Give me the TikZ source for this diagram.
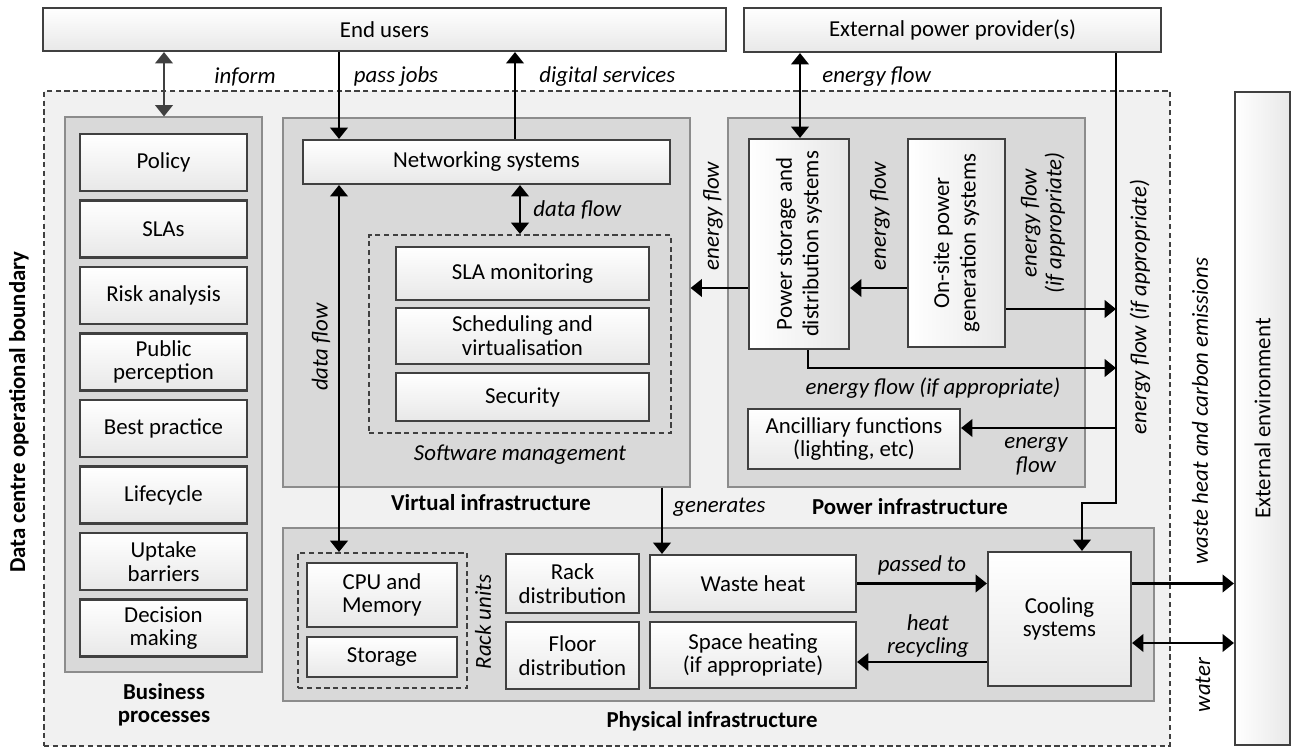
\documentclass[tikz,border=0pt]{standalone}
\usepackage{fontspec}
\setmainfont{Carlito}
\usetikzlibrary{arrows.meta,calc}
\definecolor{bd}{HTML}{404040}
\definecolor{panelc}{HTML}{D9D9D9}
\definecolor{panelbd}{HTML}{8C8C8C}
\definecolor{bgin}{HTML}{F1F1F1}
\begin{document}
\begin{tikzpicture}[x=0.02cm,y=-0.02cm,
  font=\fontsize{13}{13.5}\selectfont,
  sz/.style 2 args={minimum width=#1*0.02cm, minimum height=#2*0.02cm},
  box/.style={draw=bd, line width=1.2pt, top color=white, bottom color=black!9, align=center, inner sep=0pt, anchor=center},
  vbox/.style={draw=bd, line width=1.2pt, left color=white, right color=black!9, inner sep=0pt, anchor=center},
  panel/.style={draw=panelbd, line width=0.6pt, fill=panelc, inner sep=0pt, anchor=center},
  dbox/.style={draw=bd, line width=1.1pt, dash pattern=on 3pt off 2pt, inner sep=0pt, anchor=center},
  tip/.tip={Triangle[length=6.5pt,width=10pt]},
  arr/.style={line width=1.4pt, -tip},
  darr/.style={line width=1.4pt, tip-tip},
  lab/.style={font=\fontsize{13}{13.5}\selectfont\itshape, inner sep=0pt, align=center},
  blab/.style={font=\fontsize{13}{13}\selectfont\bfseries, inner sep=0pt, align=center},
  txt/.style={inner sep=0pt, align=center},
]
\useasboundingbox (0,0) rectangle (1295,747);
\fill[white] (0,0) rectangle (1295,747);

% operational boundary
\node[dbox, fill=bgin, sz={1126}{655}] (boundary) at (607,418.5) {};

% top boxes
\node[box, sz={683}{43}] (endusers) at (384.5,29.5) {End users};
\node[box, sz={417}{44}] (extpower) at (952.5,30) {External power provider(s)};

% external environment
\node[vbox, sz={55}{653}] (extenv) at (1262.5,418.5) {};
\node[txt, rotate=90] (extenvt) at (extenv) {External environment};

% business processes
\node[panel, sz={197}{555}] (biz) at (163.5,394.5) {};
\node[box, sz={167}{57}] (b1) at (163.5,162.5) {Policy};
\node[box, sz={167}{57}] (b2) at (163.5,229) {SLAs};
\node[box, sz={167}{57}] (b3) at (163.5,295.5) {Risk analysis};
\node[box, sz={167}{57}] (b4) at (163.5,362) {Public\\perception};
\node[box, sz={167}{57}] (b5) at (163.5,428.5) {Best practice};
\node[box, sz={167}{57}] (b6) at (163.5,495) {Lifecycle};
\node[box, sz={167}{57}] (b7) at (163.5,561.5) {Uptake\\barriers};
\node[box, sz={167}{57}] (b8) at (163.5,628) {Decision\\making};
\node[blab, font=\fontsize{13}{13}\selectfont\bfseries] (bizl) at (164,705) {Business\\processes};

% virtual infrastructure
\node[panel, sz={407}{369}] (virt) at (486.5,302.5) {};
\node[box, sz={367}{44}] (netw) at (486.5,162) {Networking systems};
\node[dbox, sz={302}{198}] (sw) at (520,334) {};
\node[box, sz={253}{53}] (sla) at (522.5,273.5) {SLA monitoring};
\node[box, sz={253}{56}] (sched) at (522.5,336) {Scheduling and\\virtualisation};
\node[box, sz={253}{48}] (sec) at (522.5,397) {Security};
\node[lab] (swl) at (520,455) {Software management};
\node[blab] (virtl) at (491,503) {Virtual infrastructure};

% power infrastructure
\node[panel, sz={357}{369}] (pow) at (906.5,302.5) {};
\node[vbox, sz={100}{210}] (pstore) at (799,244) {};
\node[txt, rotate=90, font=\fontsize{13}{15}\selectfont] (pstoret) at (pstore) {Power storage and\\distribution systems};
\node[vbox, sz={97}{208}] (onsite) at (956.5,243) {};
\node[txt, rotate=90, font=\fontsize{13}{15}\selectfont] (onsitet) at (onsite) {On-site power\\generation systems};
\node[box, sz={212}{60}] (anc) at (854,439) {Ancilliary functions\\(lighting, etc)};
\node[blab] (powl) at (910,507) {Power infrastructure};

% physical infrastructure
\node[panel, sz={871}{173}] (phys) at (718.5,614.5) {};
\node[dbox, sz={169}{135}] (rack) at (382.5,620.5) {};
\node[box, sz={150}{64}] (cpu) at (382,595) {CPU and\\Memory};
\node[box, sz={150}{40}] (stor) at (382,657) {Storage};
\node[lab, rotate=90] (rackl) at (483,622) {Rack units};
\node[box, sz={133}{59}] (rackd) at (572.5,583.5) {Rack\\distribution};
\node[box, sz={133}{67}] (floord) at (572.5,655.5) {Floor\\distribution};
\node[box, sz={206}{57}] (waste) at (753,583.5) {Waste heat};
\node[box, sz={206}{66}] (space) at (753,655) {Space heating\\(if appropriate)};
\node[box, sz={143}{134}] (cool) at (1059.5,619) {Cooling\\systems};
\node[blab] (physl) at (712,721) {Physical infrastructure};

% boundary label
\node[blab, rotate=90] (bndl) at (19,412) {Data centre operational boundary};

% helper coordinates
\coordinate (xinf) at (164,0);
\coordinate (xpj) at (339,0);
\coordinate (xds) at (515,0);
\coordinate (xdf) at (520,0);
\coordinate (xef) at (800,0);
\coordinate (xps) at (808,0);
\coordinate (vl) at (1116,0);
\coordinate (xcool) at (1082,0);
\coordinate (xg) at (662,0);
\coordinate (yA) at (0,288);
\coordinate (yB) at (0,309);
\coordinate (yC) at (0,368);
\coordinate (yD) at (0,503);
\coordinate (yE) at (0,428);
\coordinate (yF) at (0,662);
\coordinate (yG) at (0,643);

% connectors
\draw[darr, draw=bd] (endusers.south -| xinf) -- (biz.north -| xinf);
\draw[arr] (endusers.south -| xpj) -- (netw.north -| xpj);
\draw[arr] (netw.north -| xds) -- (endusers.south -| xds);
\draw[darr] (netw.south -| xpj) -- (rack.north -| xpj);
\draw[darr] (netw.south -| xdf) -- (sw.north -| xdf);
\draw[darr] (extpower.south -| xef) -- (pstore.north -| xef);
\draw[arr] (pstore.west |- yA) -- (virt.east |- yA);
\draw[arr] (onsite.west |- yA) -- (pstore.east |- yA);
\draw[arr] (onsite.east |- yB) -- (vl |- yB);
\draw[arr] (pstore.south -| xps) -- (xps |- yC) -- (vl |- yC);
\draw[arr] (extpower.south -| vl) -- (vl |- yD) -- (xcool |- yD) -- (cool.north -| xcool);
\draw[arr] (vl |- yE) -- (anc.east |- yE);
\draw[arr] (virt.south -| xg) -- (waste.north -| xg);
\draw[arr] (waste.east) -- (cool.west |- waste.east);
\draw[arr] (cool.west |- yF) -- (space.east |- yF);
\draw[arr] (cool.east |- waste.east) -- (extenv.west |- waste.east);
\draw[darr] (cool.east |- yG) -- (extenv.west |- yG);

% connector labels
\node[lab] (l1) at (245,77) {inform};
\node[lab] (l2) at (396,77) {pass jobs};
\node[lab, anchor=west] (l3) at (539,77) {digital services};
\node[lab, anchor=west] (l4) at (822,77) {energy flow};
\node[lab, anchor=west] (l5) at (533,210) {data flow};
\node[lab, rotate=90] (l6) at (321,347) {data flow};
\node[lab, rotate=90] (l7) at (713,216) {energy flow};
\node[lab, rotate=90] (l8) at (880,216) {energy flow};
\node[lab, rotate=90, font=\fontsize{13}{14}\selectfont\itshape] (l9) at (1043,223) {energy flow\\(if appropriate)};
\node[lab, rotate=90] (l10) at (1140,307) {energy flow (if appropriate)};
\node[lab, rotate=90] (l11) at (1200,411) {waste heat and carbon emissions};
\node[lab, rotate=90] (l12) at (1203,685) {water};
\node[lab] (l13) at (933,388) {energy flow (if appropriate)};
\node[lab] (l14) at (1036,456) {energy\\flow};
\node[lab, anchor=west] (l15) at (673,507) {generates};
\node[lab] (l16) at (922,565) {passed to};
\node[lab] (l17) at (928,636) {heat\\recycling};
\end{tikzpicture}
\end{document}
